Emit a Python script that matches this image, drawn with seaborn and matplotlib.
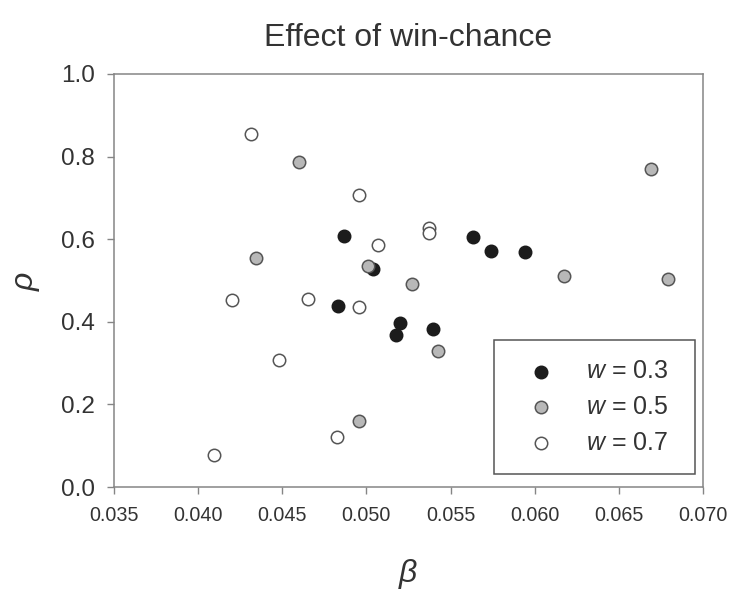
import matplotlib
matplotlib.use("Agg")
import matplotlib.pyplot as plt
import seaborn as sns
import pandas as pd

# ---- data ----
beta_w03 = [0.04869, 0.05037, 0.05631, 0.05738, 0.05944, 0.05397, 0.04833, 0.05199, 0.05174]
rho_w03 = [0.607, 0.528, 0.606, 0.571, 0.569, 0.382, 0.439, 0.398, 0.368]

beta_w05 = [0.04601, 0.04342, 0.05011, 0.06691, 0.06174, 0.06790, 0.05270, 0.05423, 0.04958]
rho_w05 = [0.787, 0.555, 0.534, 0.771, 0.512, 0.503, 0.492, 0.330, 0.160]

beta_w07 = [0.04314, 0.04958, 0.05071, 0.05372, 0.05372, 0.04201, 0.04655, 0.04954, 0.04482, 0.04823, 0.04096]
rho_w07 = [0.855, 0.706, 0.586, 0.627, 0.615, 0.453, 0.455, 0.435, 0.308, 0.122, 0.078]

labels = [r"$w$ = 0.3", r"$w$ = 0.5", r"$w$ = 0.7"]
x_ticks = [0.035, 0.040, 0.045, 0.050, 0.055, 0.060, 0.065, 0.070]
y_ticks = [0.0, 0.2, 0.4, 0.6, 0.8, 1.0]
title = "Effect of win-chance"

sns.set_style("white")
plt.rcParams["font.family"] = ["Liberation Sans", "DejaVu Sans"]
plt.rcParams["mathtext.fontset"] = "custom"
plt.rcParams["mathtext.rm"] = "Liberation Sans"
plt.rcParams["mathtext.it"] = "Liberation Sans:italic"

df = pd.concat([
    pd.DataFrame({"beta": beta_w03, "rho": rho_w03, "group": labels[0]}),
    pd.DataFrame({"beta": beta_w05, "rho": rho_w05, "group": labels[1]}),
    pd.DataFrame({"beta": beta_w07, "rho": rho_w07, "group": labels[2]}),
], ignore_index=True)

fig = plt.figure(figsize=(7.31, 5.90), dpi=100)
ax = fig.add_axes([114 / 731, 1 - 487 / 590, 589 / 731, 413 / 590])

styles = {
    labels[0]: dict(color="#1c1c1c", edgecolor="#1c1c1c"),
    labels[1]: dict(color="#b8b8b8", edgecolor="#555555"),
    labels[2]: dict(color="#ffffff", edgecolor="#555555"),
}
for lab in labels:
    sub = df[df["group"] == lab]
    sns.scatterplot(data=sub, x="beta", y="rho", ax=ax, s=80, linewidth=1.1,
                    label=lab, zorder=3, **styles[lab])

ax.set_xlim(0.035, 0.070)
ax.set_ylim(0.0, 1.0)
ax.set_xticks(x_ticks)
ax.set_xticklabels([f"{t:.3f}" for t in x_ticks])
ax.set_yticks(y_ticks)
ax.set_yticklabels([f"{t:.1f}" for t in y_ticks])

for sp in ax.spines.values():
    sp.set_color("#858585")
    sp.set_linewidth(1.1)
    sp.set_visible(True)

ax.tick_params(axis="x", direction="out", length=5, width=1, color="#858585",
               labelsize=14.2, labelcolor="#333333", pad=9, bottom=True)
ax.tick_params(axis="y", direction="out", length=5, width=1, color="#858585",
               labelsize=17.5, labelcolor="#333333", pad=9, left=True)

ax.set_xlabel(r"$\beta$", fontsize=23, color="#333333", labelpad=23)
ax.set_ylabel(r"$\rho$", fontsize=23, color="#333333", labelpad=13.5)
ax.set_title(title, fontsize=23, color="#333333", pad=20)

leg = ax.legend(loc="lower left", bbox_to_anchor=(0.645, 0.031, 0.341, 0.332),
                mode="expand", frameon=True, fontsize=18, fancybox=False,
                borderpad=0.78, labelspacing=0.47, handletextpad=0.72,
                handlelength=2.2, borderaxespad=0)
leg.get_frame().set_edgecolor("#555555")
leg.get_frame().set_linewidth(1.1)
leg.get_frame().set_alpha(1)
for t in leg.get_texts():
    t.set_color("#333333")

fig.savefig("out.png", dpi=100)
